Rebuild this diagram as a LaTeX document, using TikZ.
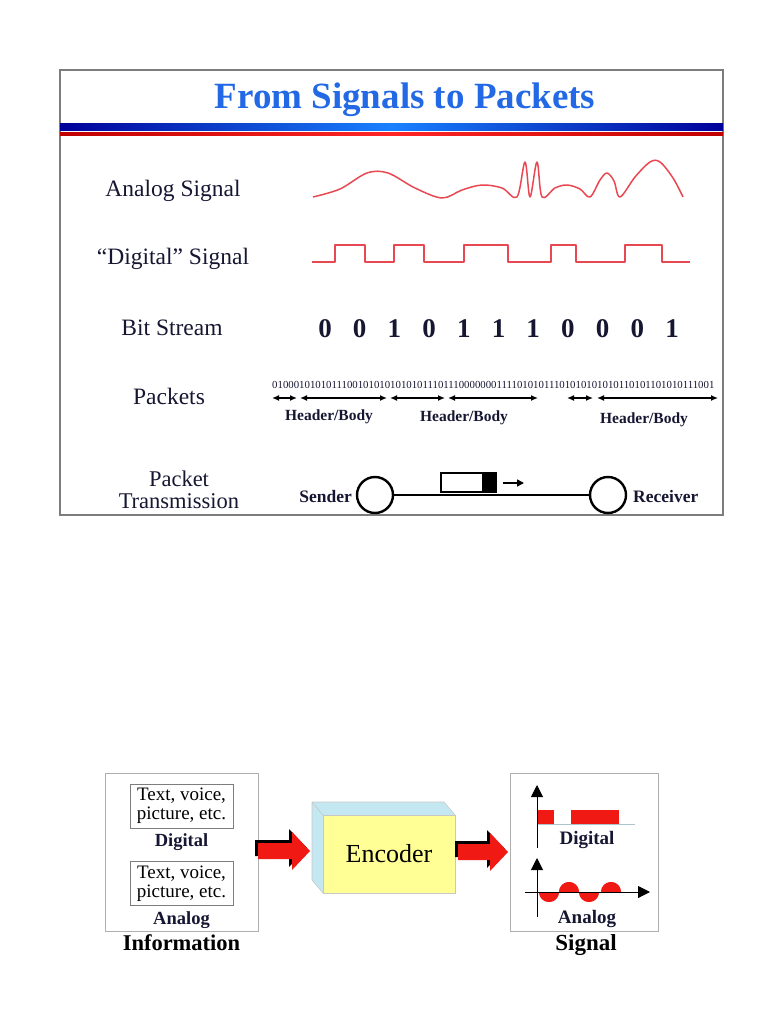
\documentclass[tikz,border=0pt]{standalone}
\usepackage{fontspec}
\setmainfont{Liberation Serif}
\usetikzlibrary{arrows.meta}

\definecolor{titleblue}{RGB}{35,105,230}
\definecolor{sigred}{RGB}{232,72,82}
\definecolor{inkblue}{RGB}{22,22,50}
\definecolor{encyellow}{RGB}{255,255,150}
\definecolor{encside}{RGB}{195,232,242}
\definecolor{framegray}{RGB}{125,125,125}
\definecolor{boxgray}{RGB}{175,175,175}
\definecolor{arrred}{RGB}{240,25,20}

\newcommand{\setfs}[1]{\fontsize{#1}{#1}\selectfont}
% fat red arrow: tail x, neck x, tip x, middle y
\newcommand{\redarrow}[4]{%
\fill[black] (#1-3,#4-11) -- (#2-3,#4-11) -- (#2-3,#4-22) -- (#3-3,#4-3) -- (#2-3,#4+16) -- (#2-3,#4+5) -- (#1-3,#4+5) -- cycle;
\fill[arrred] (#1,#4-8) -- (#2,#4-8) -- (#2,#4-19) -- (#3,#4) -- (#2,#4+19) -- (#2,#4+8) -- (#1,#4+8) -- cycle;
}

\tikzset{
lbl/.style={font=\setfs{23.5},text=inkblue,inner sep=0pt,anchor=base},
bitnode/.style={font=\bfseries\setfs{27},text=inkblue,inner sep=0pt,anchor=base},
hb/.style={font=\bfseries\setfs{15.5},text=inkblue,inner sep=0pt,anchor=base},
pkarrow/.style={{Latex[length=7pt,width=6pt]}-{Latex[length=7pt,width=6pt]},line width=1.3pt},
wave/.style={sigred,line width=1.5pt,line join=round},
station/.style={circle,draw,line width=2.4pt,minimum size=36pt,inner sep=0pt},
txtbox/.style={draw=framegray,line width=0.8pt,minimum width=103pt,minimum height=44pt,align=center,font=\setfs{19},inner sep=0pt},
axis/.style={line width=1pt,-{Triangle[length=12pt,width=12pt]}},
}

\begin{document}
\begin{tikzpicture}[x=1pt,y=-1pt]
\useasboundingbox (0,0) rectangle (768,1024);
%
% top panel
\draw[framegray,line width=1.5pt] (60,70) rectangle (723,515);
\node[font=\bfseries\setfs{37},text=titleblue,inner sep=0pt,anchor=base] (title) at (405,109) {From Signals to Packets};
\shade[left color=blue!60!black,right color=blue!60!black,middle color=blue!55!cyan!90] (60,124) rectangle (723,131);
\shade[left color=red!75!black,right color=red!75!black,middle color=red!85] (60,132.5) rectangle (723,136);
%
\node[lbl] (lanalog) at (173,197) {Analog Signal};
\node[lbl] (ldigital) at (173,264) {``Digital'' Signal};
\node[lbl] (lbits) at (172,335) {Bit Stream};
\node[lbl] (lpackets) at (169,404) {Packets};
\node[font=\fontsize{22.5}{22.5}\selectfont,text=inkblue,inner sep=0pt,align=center] (ltrans) at (179,490) {Packet\\Transmission};
%
\draw[wave] plot[smooth,tension=0.55] coordinates {(313,197) (340,189) (367,173) (388,173) (415,188) (442,198) (462,190) (482,185) (502,188) (517,197) (525,162) (530,197) (537,162) (542,197) (555,188) (567,185) (580,189) (590,197) (600,180) (607,173) (614,181) (620,197) (635,177) (650,162) (660,162) (673,178) (683,197)};
\draw[wave] (312,262) -- (335,262) -- (335,245) -- (365,245) -- (365,262) -- (394,262) -- (394,245) -- (424,245) -- (424,262) -- (464,262) -- (464,245) -- (508,245) -- (508,262) -- (551,262) -- (551,245) -- (576,245) -- (576,262) -- (625,262) -- (625,245) -- (662,245) -- (662,262) -- (690,262);
%
\foreach \b [count=\i from 0] in {0,0,1,0,1,1,1,0,0,0,1}{
\node[bitnode] (b\i) at (325+34.7*\i,337) {\b};
}
%
\node[font=\setfs{10.8},text=inkblue,inner sep=0pt,anchor=base west] (pbits) at (272,388) {01000101010111001010101010101110111000000011110101011101010101010110101101010111001};
\foreach \a/\c [count=\i] in {272/297,300/387,390/445,448/538,567/593,597/718}{
\coordinate (s\i) at (\a,398);
\coordinate (e\i) at (\c,398);
\draw[pkarrow] (s\i) -- (e\i);
}
\node[hb] (hb1) at (329,420) {Header/Body};
\node[hb] (hb2) at (464,421) {Header/Body};
\node[hb] (hb3) at (644,423) {Header/Body};
%
\node[station] (snd) at (375,495) {};
\node[station] (rcv) at (608,495) {};
\draw[line width=1.7pt] (snd) -- (rcv);
\node[font=\bfseries\setfs{17.5},text=inkblue,inner sep=0pt,anchor=base east] (lsnd) at (352,502) {Sender};
\node[font=\bfseries\setfs{17.5},text=inkblue,inner sep=0pt,anchor=base west] (lrcv) at (633,502) {Receiver};
\node[draw,line width=2pt,minimum width=55pt,minimum height=19pt,inner sep=0pt] (pkt) at (468,482) {};
\fill (482,472.5) rectangle (496.5,491.5);
\coordinate (mv) at (524,483);
\draw[line width=1.5pt,-{Triangle[length=7pt,width=7pt]}] ([xshift=6pt,yshift=-1pt]pkt.east) -- (mv);
%
% bottom panel
\node[draw=boxgray,line width=1pt,minimum width=153pt,minimum height=158pt,inner sep=0pt] (info) at (181.5,852) {};
\node[txtbox] (tb1) at (181.5,806) {Text, voice,\\picture, etc.};
\node[txtbox] (tb2) at (181.5,883.5) {Text, voice,\\picture, etc.};
\node[font=\bfseries\setfs{18.5},text=inkblue,inner sep=0pt,anchor=base] (ldig) at (181.5,846) {Digital};
\node[font=\bfseries\setfs{18.5},text=inkblue,inner sep=0pt,anchor=base] (lana) at (181.5,924) {Analog};
\node[font=\bfseries\setfs{22.5},text=black,inner sep=0pt,anchor=base] (linfo) at (181.5,950) {Information};
%
\fill[encside] (323,815) -- (312,802) -- (444,802) -- (455,815) -- cycle;
\fill[encside] (323,815) -- (312,802) -- (312,880) -- (323,893) -- cycle;
\draw[boxgray!70,line width=0.6pt] (312,802) -- (444,802) -- (455,815) (312,802) -- (312,880) -- (323,893) (312,802) -- (323,815);
\node[fill=encyellow,draw=boxgray!70,line width=0.6pt,minimum width=132pt,minimum height=78pt,inner sep=0pt,font=\setfs{26}] (enc) at (389,854) {Encoder};
%
\node[draw=boxgray,line width=1pt,minimum width=148pt,minimum height=158pt,inner sep=0pt] (sig) at (584,852) {};
\redarrow{258}{292}{310}{851}
\redarrow{458}{490}{508}{852}
%
\draw[cyan!30!gray!60,line width=1pt] (537,824) -- (635,824);
\fill[arrred] (537,810) rectangle (554,824);
\fill[arrred] (571,810) rectangle (619,824);
\coordinate (dy0) at (537,848);
\coordinate (dy1) at (537,785);
\draw[axis] (dy0) -- (dy1);
\node[font=\bfseries\setfs{19},text=inkblue,inner sep=0pt,anchor=base] (sdig) at (587,844) {Digital};
%
\foreach \cx/\s in {549/1,569/-1,589/1,611/-1}{
\fill[arrred] plot[domain=0:180,samples=25] ({\cx+10*cos(\x)},{892+\s*10*sin(\x)}) -- cycle;
}
\coordinate (ay0) at (537,917);
\coordinate (ay1) at (537,858);
\coordinate (ax0) at (525,892);
\coordinate (ax1) at (650,892);
\draw[axis] (ay0) -- (ay1);
\draw[axis] (ax0) -- (ax1);
\node[font=\bfseries\setfs{19},text=inkblue,inner sep=0pt,anchor=base] (sana) at (587,923) {Analog};
\node[font=\bfseries\setfs{23},text=black,inner sep=0pt,anchor=base] (lsig) at (586,950) {Signal};
\end{tikzpicture}
\end{document}
